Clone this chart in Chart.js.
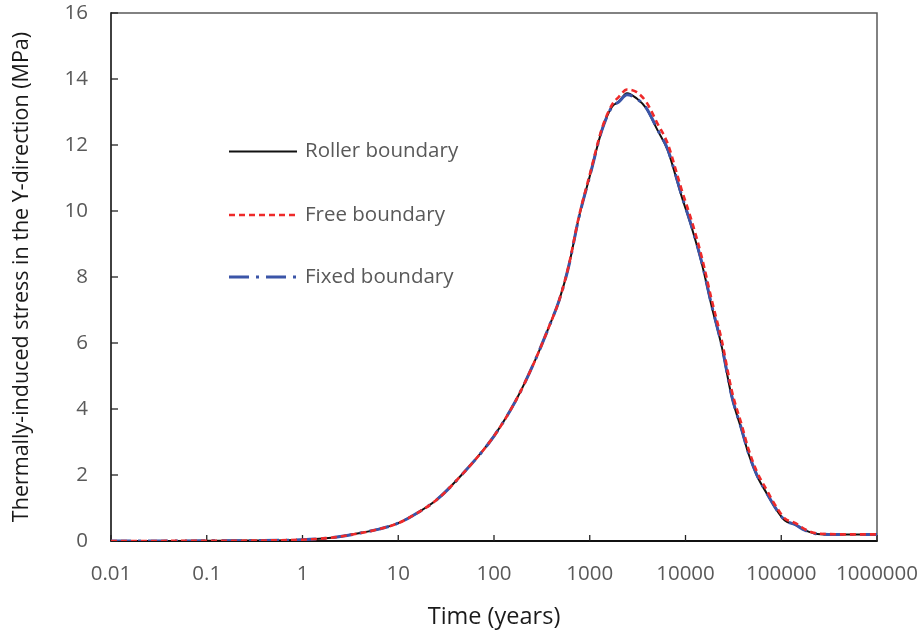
<!DOCTYPE html>
<html>
<head>
<meta charset="utf-8">
<script src="https://cdn.jsdelivr.net/npm/chart.js@4.4.1/dist/chart.umd.min.js"></script>
<style>
html,body{margin:0;padding:0;background:#fff;}
canvas{display:block;}
</style>
</head>
<body>
<canvas id="c" width="923" height="631"></canvas>
<script>
// ---- data ----
const times = [0.01, 0.03, 0.1, 0.3, 1, 2, 4, 6.3, 10, 14, 25, 50, 100, 170, 260, 375, 480, 600, 770, 1000, 1340, 1710, 2000, 2450, 3100, 3900, 5100, 6500, 8100, 9100, 11600, 14800, 18800, 23900, 30400, 38600, 45300, 55300, 70300, 89400, 109000, 139000, 176000, 224000, 309000, 500000, 1000000];
const roller = [0, 0.002, 0.005, 0.012, 0.04, 0.1, 0.24, 0.36, 0.54, 0.76, 1.24, 2.12, 3.18, 4.27, 5.38, 6.49, 7.3, 8.3, 9.8, 11.05, 12.45, 13.16, 13.31, 13.57, 13.41, 13.11, 12.45, 11.85, 10.95, 10.45, 9.5, 8.41, 7.1, 5.89, 4.37, 3.36, 2.66, 2.0, 1.45, 0.94, 0.62, 0.5, 0.33, 0.23, 0.2, 0.2, 0.2];
const free   = [0, 0.002, 0.005, 0.012, 0.04, 0.1, 0.24, 0.36, 0.54, 0.76, 1.24, 2.12, 3.18, 4.27, 5.38, 6.49, 7.3, 8.32, 9.83, 11.1, 12.5, 13.22, 13.45, 13.68, 13.6, 13.3, 12.65, 12.05, 11.15, 10.65, 9.7, 8.6, 7.3, 6.08, 4.56, 3.52, 2.8, 2.12, 1.55, 1.02, 0.68, 0.55, 0.36, 0.24, 0.21, 0.2, 0.2];
const fixed  = [0, 0.002, 0.005, 0.012, 0.04, 0.1, 0.24, 0.36, 0.54, 0.76, 1.24, 2.12, 3.18, 4.27, 5.38, 6.49, 7.3, 8.3, 9.8, 11.05, 12.45, 13.16, 13.3, 13.52, 13.4, 13.12, 12.47, 11.88, 10.98, 10.48, 9.53, 8.44, 7.13, 5.92, 4.4, 3.38, 2.68, 2.02, 1.46, 0.95, 0.63, 0.5, 0.33, 0.23, 0.2, 0.2, 0.2];
const seriesNames = ["Roller boundary", "Free boundary", "Fixed boundary"];
const xTickValues = [0.01, 0.1, 1, 10, 100, 1000, 10000, 100000, 1000000];
const xTickLabels = ["0.01", "0.1", "1", "10", "100", "1000", "10000", "100000", "1000000"];
const yTickValues = [0, 2, 4, 6, 8, 10, 12, 14, 16];

const FONT = "'Open Sans', 'Noto Sans', sans-serif";
const toXY = arr => arr.map((v, i) => ({x: times[i], y: v}));

const frame = {
  id: 'frame',
  beforeDatasetsDraw(chart) {
    const {ctx, chartArea: a, scales} = chart;
    ctx.save();
    ctx.lineCap = 'butt';
    ctx.strokeStyle = '#595959';
    ctx.lineWidth = 1.5;
    ctx.beginPath();
    ctx.moveTo(a.left, a.top); ctx.lineTo(a.right, a.top); ctx.lineTo(a.right, a.bottom);
    ctx.stroke();
    ctx.strokeStyle = '#111';
    ctx.lineWidth = 1.6;
    ctx.beginPath(); ctx.moveTo(a.left, a.top - 0.75); ctx.lineTo(a.left, a.bottom); ctx.stroke();
    ctx.lineWidth = 2.2;
    ctx.beginPath(); ctx.moveTo(a.left - 0.8, a.bottom); ctx.lineTo(a.right + 0.75, a.bottom); ctx.stroke();
    ctx.lineWidth = 1.3;
    ctx.strokeStyle = '#222';
    yTickValues.forEach(v => {
      const y = scales.y.getPixelForValue(v);
      ctx.beginPath(); ctx.moveTo(a.left, y); ctx.lineTo(a.left + 7, y); ctx.stroke();
    });
    xTickValues.forEach(v => {
      const x = scales.x.getPixelForValue(v);
      ctx.beginPath(); ctx.moveTo(x, a.bottom); ctx.lineTo(x, a.bottom - 6); ctx.stroke();
    });
    ctx.restore();
  }
};

const legendPlugin = {
  id: 'customLegend',
  afterDatasetsDraw(chart) {
    const {ctx} = chart;
    const rows = [151.5, 215, 277];
    ctx.save();
    [0, 1, 2].forEach((di, r) => {
      const ds = chart.data.datasets[di];
      const y = rows[r];
      ctx.strokeStyle = ds.borderColor;
      ctx.lineWidth = ds.borderWidth;
      ctx.setLineDash(ds.borderDash || []);
      ctx.beginPath(); ctx.moveTo(229, y); ctx.lineTo(297, y); ctx.stroke();
      ctx.setLineDash([]);
      ctx.fillStyle = '#595959';
      ctx.font = "20.5px " + FONT;
      ctx.textBaseline = 'middle';
      ctx.textAlign = 'left';
      ctx.fillText(ds.label, 305, y);
    });
    ctx.restore();
  }
};

new Chart(document.getElementById('c'), {
  type: 'line',
  data: {
    datasets: [
      {label: seriesNames[0], data: toXY(roller), borderColor: '#111111', borderWidth: 2, borderDash: [], order: 2},
      {label: seriesNames[1], data: toXY(free), borderColor: '#ee2a2a', borderWidth: 2.6, borderDash: [6, 4], order: 0},
      {label: seriesNames[2], data: toXY(fixed), borderColor: '#3b55a8', borderWidth: 3, borderDash: [20, 7, 3, 7], order: 1}
    ]
  },
  plugins: [frame, legendPlugin],
  options: {
    responsive: false,
    animation: false,
    events: [],
    layout: {autoPadding: false, padding: {top: 13, right: 46, left: 0, bottom: 0}},
    elements: {point: {radius: 0}, line: {cubicInterpolationMode: 'monotone', fill: false}},
    plugins: {legend: {display: false}, tooltip: {enabled: false}},
    scales: {
      x: {
        type: 'logarithmic',
        min: 0.01, max: 1000000,
        afterBuildTicks: s => { s.ticks = xTickValues.map(v => ({value: v})); },
        afterFit: s => { s.height = 90; s.paddingLeft = 0; s.paddingRight = 0; },
        grid: {display: false, drawTicks: false},
        border: {display: false},
        ticks: {
          autoSkip: false, maxRotation: 0, padding: 21,
          color: '#595959', font: {family: FONT, size: 20.5},
          callback: (v, i) => xTickLabels[i]
        },
        title: {display: true, text: 'Time (years)', color: '#1a1a1a', font: {family: FONT, size: 23.5}, padding: {top: 0, bottom: 0}}
      },
      y: {
        type: 'linear',
        min: 0, max: 16,
        afterBuildTicks: s => { s.ticks = yTickValues.map(v => ({value: v})); },
        afterFit: s => { s.width = 111; s.paddingTop = 0; s.paddingBottom = 0; },
        grid: {display: false, drawTicks: false},
        border: {display: false},
        ticks: {padding: 23, color: '#595959', font: {family: FONT, size: 20.5}},
        title: {display: true, text: 'Thermally-induced stress in the Y-direction (MPa)', color: '#1a1a1a', font: {family: FONT, size: 21.5}, padding: {top: 9, bottom: 0}}
      }
    }
  }
});
</script>
</body>
</html>
